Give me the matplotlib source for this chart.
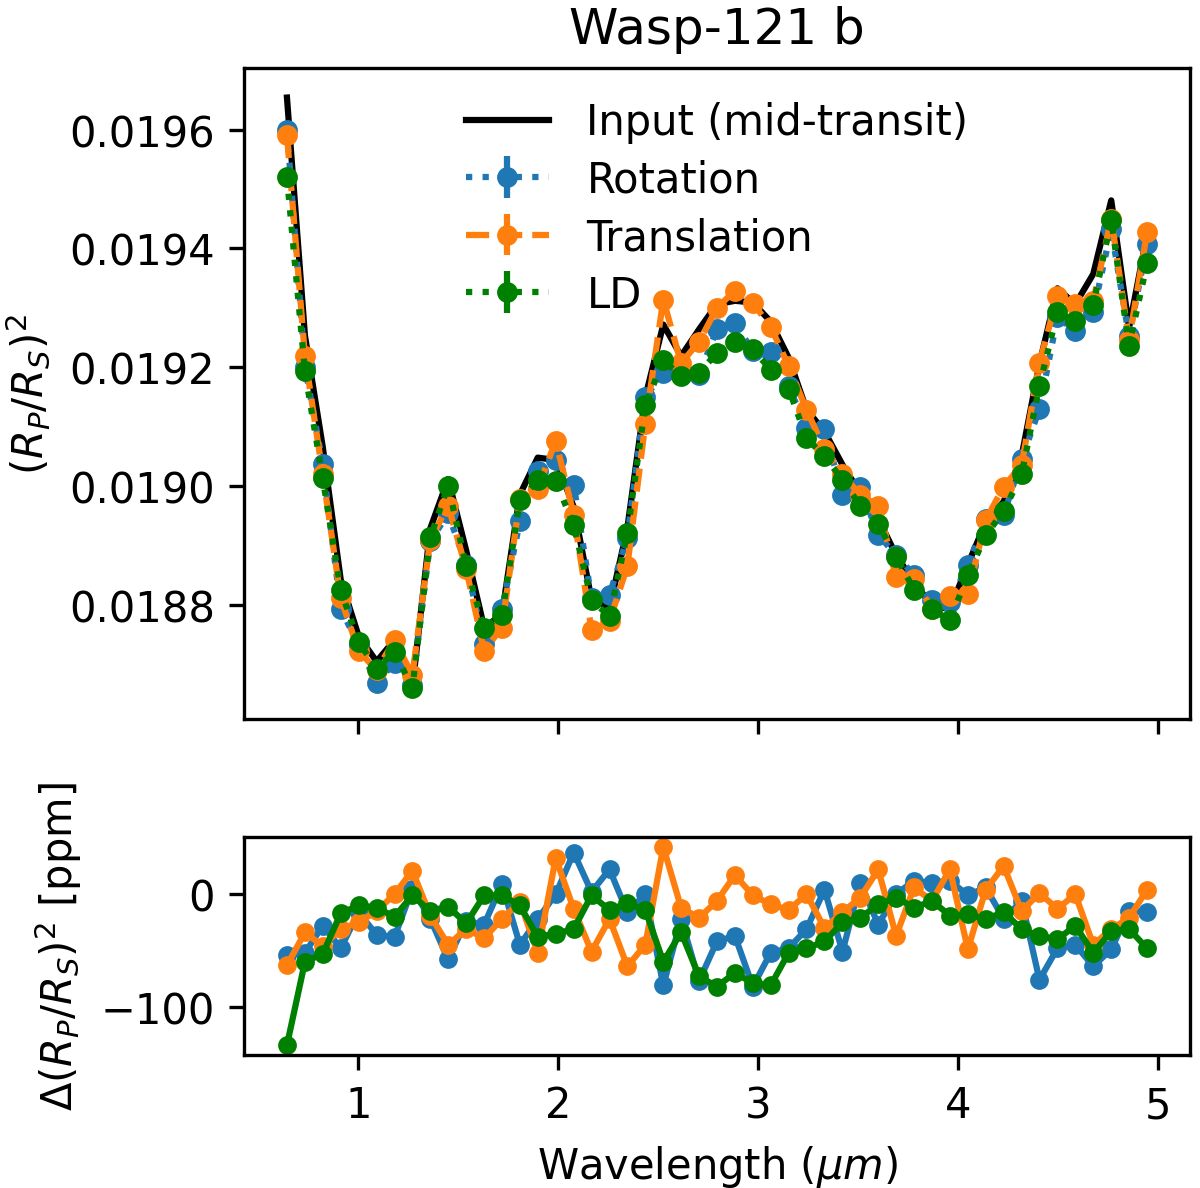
import numpy as np
import matplotlib
matplotlib.use('Agg')
from matplotlib import pyplot as plt

# wavelength grid (micron)
wavelength = [0.643, 0.733, 0.822, 0.912, 1.001, 1.091, 1.181, 1.270, 1.360, 1.449,
              1.539, 1.629, 1.718, 1.808, 1.897, 1.987, 2.077, 2.166, 2.256, 2.345,
              2.435, 2.525, 2.614, 2.704, 2.793, 2.883, 2.973, 3.062, 3.152, 3.241,
              3.331, 3.421, 3.510, 3.600, 3.689, 3.779, 3.869, 3.958, 4.048, 4.137,
              4.227, 4.317, 4.406, 4.496, 4.585, 4.675, 4.765, 4.854, 4.944]

# input spectrum at mid-transit, (Rp/Rs)^2
depth_input = [0.019654, 0.019253, 0.019066, 0.018842, 0.018748, 0.018705, 0.018741, 0.018661, 0.018929, 0.019012,
               0.018892, 0.018762, 0.018784, 0.018986, 0.019048, 0.019044, 0.018965, 0.018809, 0.018795, 0.018929,
               0.019150, 0.019272, 0.019219, 0.019264, 0.019306, 0.019312, 0.019309, 0.019277, 0.019216, 0.019129,
               0.019092, 0.019036, 0.018988, 0.018945, 0.018884, 0.018838, 0.018799, 0.018793, 0.018868, 0.018939,
               0.018974, 0.019051, 0.019206, 0.019333, 0.019306, 0.019357, 0.019481, 0.019267, 0.019423]

# retrieved minus input, ppm
diff_rotation = [-54, -52, -28, -48, -16, -36, -38, 5, -22, -58,
                 -24, -27, 9, -45, -22, 0, 37, 2, 22, -16,
                 0, -81, -22, -77, -42, -37, -82, -52, -48, -31,
                 4, -51, 10, -27, 0, 12, 10, 12, -1, 6,
                 -22, -6, -76, -48, -45, -64, -49, -15, -16]
diff_translation = [-63, -34, -46, -31, -25, -15, 0, 21, -19, -45,
                    -31, -39, -22, -7, -52, 32, -13, -51, -22, -64,
                    -45, 42, -12, -21, -6, 17, -1, -9, -14, 0,
                    -30, -16, -3, 22, -37, 6, -6, 22, -49, 4,
                    25, -15, 1, -13, 0, -45, -31, -21, 4]
diff_ld = [-134, -60, -53, -17, -10, -12, -20, -1, -15, -11,
           -26, -1, -1, -10, -38, -35, -31, -1, -14, -8,
           -14, -60, -34, -73, -82, -70, -79, -81, -52, -48,
           -42, -25, -21, -9, -3, -12, -6, -19, -18, -22,
           -16, -31, -37, -40, -28, -52, -33, -31, -48]

# uncertainty on retrieved depths (too small to see)
depth_err = [2e-6] * len(wavelength)

wl = np.array(wavelength)
inp = np.array(depth_input)
rot = inp + np.array(diff_rotation) * 1e-6
tra = inp + np.array(diff_translation) * 1e-6
ld = inp + np.array(diff_ld) * 1e-6

fig = plt.figure(figsize=(4, 3.9633), dpi=300)
ax1 = fig.add_axes([0.2033, 0.3945, 0.7884, 0.5475])
ax2 = fig.add_axes([0.2033, 0.1119, 0.7884, 0.1833], sharex=ax1)

ax1.plot(wl, inp, 'k-', label='Input (mid-transit)')
ax1.errorbar(wl, rot, yerr=depth_err, fmt='o:', color='C0', ms=4, label='Rotation')
ax1.errorbar(wl, tra, yerr=depth_err, fmt='o--', color='C1', ms=4, label='Translation')
ax1.errorbar(wl, ld, yerr=depth_err, fmt='o:', color='g', ms=4, label='LD')
ax1.set_ylabel(r'$(R_P/R_S)^2$')
ax1.set_title('Wasp-121 b', fontsize=12)
ax1.legend(loc='upper center', frameon=False, labelspacing=0.37,
           handletextpad=0.9, borderaxespad=0.4)
plt.setp(ax1.get_xticklabels(), visible=False)

ax2.plot(wl, diff_rotation, 'o-', color='C0', ms=3.5)
ax2.plot(wl, diff_translation, 'o-', color='C1', ms=3.5)
ax2.plot(wl, diff_ld, 'o-', color='g', ms=3.5)
ax2.set_ylabel(r'$\Delta(R_P/R_S)^2$ [ppm]')
ax2.set_xlabel(r'Wavelength ($\mu m$)')
ax2.set_xticks([1, 2, 3, 4, 5])

fig.savefig('out.png', dpi=300)
